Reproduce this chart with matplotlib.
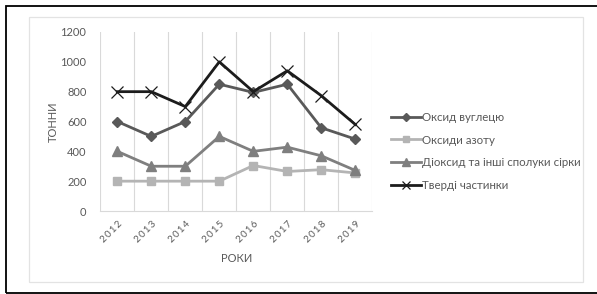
import matplotlib.pyplot as plt
from matplotlib.patches import Rectangle

years = ['2012', '2013', '2014', '2015', '2016', '2017', '2018', '2019']
carbon_oxide = [600, 500, 600, 850, 795, 850, 558, 482]
nitrogen_oxides = [200, 200, 200, 200, 305, 265, 277, 255]
sulfur_dioxide = [400, 300, 300, 500, 400, 428, 370, 272]
particulates = [800, 800, 700, 1000, 800, 940, 773, 580]

labels = ['Оксид вуглецю', 'Оксиди азоту', 'Діоксид та інші сполуки сірки', 'Тверді частинки']
y_ticks = [0, 200, 400, 600, 800, 1000, 1200]

plt.rcParams['font.family'] = ['Lato', 'DejaVu Sans']
text_color = '#595959'
grid_color = '#d9d9d9'

fig = plt.figure(figsize=(5.97, 2.94), dpi=100)
W, H = 597, 294

# outer black frame and inner light chart-area frame
fig.patches.append(Rectangle((6 / W, 1 - 292.5 / H), 620 / W, 287 / H,
                             transform=fig.transFigure, fill=False,
                             edgecolor='black', linewidth=1.3))
fig.patches.append(Rectangle((29 / W, 1 - 282.3 / H), 553.7 / W, 265.3 / H,
                             transform=fig.transFigure, fill=False,
                             edgecolor='#e3e3e3', linewidth=0.9))

ax = fig.add_axes([100.3 / W, 1 - 211 / H, 272 / W, 179 / H])
x = range(len(years))

ax.plot(x, carbon_oxide, color='#595959', lw=2, marker='D', ms=5.5, label=labels[0])
ax.plot(x, nitrogen_oxides, color='#b4b4b4', lw=2, marker='s', ms=6, label=labels[1])
ax.plot(x, sulfur_dioxide, color='#7f7f7f', lw=2, marker='^', ms=7, label=labels[2])
ax.plot(x, particulates, color='#1c1c1c', lw=2, marker='x', ms=8, mew=0.9, label=labels[3])

ax.set_xlim(-0.5, len(years) - 0.5)
ax.set_ylim(0, 1200)
ax.set_yticks(y_ticks)
ax.set_yticklabels([str(v) for v in y_ticks], color=text_color, fontsize=8)
ax.set_xticks(list(x))
ax.set_xticklabels(['\u2009'.join(y) for y in years], rotation=45, ha='right',
                   rotation_mode='anchor', color=text_color, fontsize=7)
ax.set_xticks([i - 0.5 for i in range(len(years) + 1)], minor=True)
ax.grid(True, which='minor', axis='x', color=grid_color, lw=0.8)
ax.tick_params(axis='both', which='both', length=0)
ax.tick_params(axis='y', pad=10)
ax.tick_params(axis='x', pad=6)
for side in ['top', 'right', 'left']:
    ax.spines[side].set_visible(False)
ax.spines['bottom'].set_color(grid_color)
ax.spines['bottom'].set_linewidth(0.8)

ax.set_xlabel('РОКИ', color=text_color, fontsize=8, labelpad=6)
ax.set_ylabel('ТОННИ', color=text_color, fontsize=8, labelpad=1)

leg = fig.legend(loc='upper left', bbox_to_anchor=(391 / W, 1 - 112 / H),
                 frameon=False, fontsize=8.3, handlelength=2.6, handletextpad=0.1,
                 labelspacing=1.0, borderpad=0, borderaxespad=0, markerscale=0.8)
for t in leg.get_texts():
    t.set_color(text_color)

fig.savefig('out.png', dpi=100)
